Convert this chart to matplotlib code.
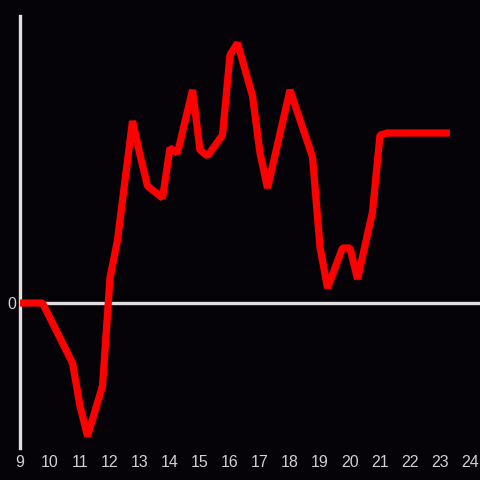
import numpy as np
import matplotlib.pyplot as plt

# hours of the day (decimal) and value
hours = [9.0, 9.75, 10.75, 11.0, 11.25, 11.75, 12.0, 12.25, 12.75, 13.0, 13.25,
         13.75, 14.0, 14.25, 14.75, 15.0, 15.25, 15.75, 16.0, 16.25, 16.75,
         17.0, 17.25, 18.0, 18.75, 19.0, 19.25, 19.75, 20.0, 20.25, 20.75,
         21.0, 21.25, 23.33]
values = [0, 0, -60, -103, -133, -83, 25, 63, 182, 148, 117,
          105, 155, 150, 213, 153, 147, 168, 248, 260, 207,
          150, 115, 213, 146, 56, 15, 55, 55, 24, 91,
          168, 170, 170]
xticks = list(range(9, 25))

bg = '#050308'
axis_col = '#e0e0e0'
text_col = '#d0d0d0'

fig = plt.figure(figsize=(4.8, 4.8), dpi=100, facecolor=bg)
ax = fig.add_axes([20 / 480, 32 / 480, 460 / 480, 432 / 480], facecolor=bg)

ax.plot(hours, values, color='#ff0000', lw=5.2, solid_joinstyle='bevel',
        solid_capstyle='butt', zorder=3)
ax.axhline(0, color=axis_col, lw=2.4, zorder=2)

ax.set_xlim(9, 24.333)
ax.set_ylim(-145, 287)

for s in ['top', 'right', 'bottom']:
    ax.spines[s].set_visible(False)
ax.spines['left'].set_color(axis_col)
ax.spines['left'].set_linewidth(2.4)

ax.set_xticks(xticks)
ax.set_xticklabels([str(t) for t in xticks])
ax.set_yticks([0])
ax.set_yticklabels(['0'])
ax.tick_params(length=0, colors=text_col, labelsize=11.5, pad=5)
ax.tick_params(axis='y', pad=3)
for lab in ax.get_xticklabels() + ax.get_yticklabels():
    lab.set_fontfamily('Liberation Sans')

fig.savefig('out.png', dpi=100, facecolor=bg)
